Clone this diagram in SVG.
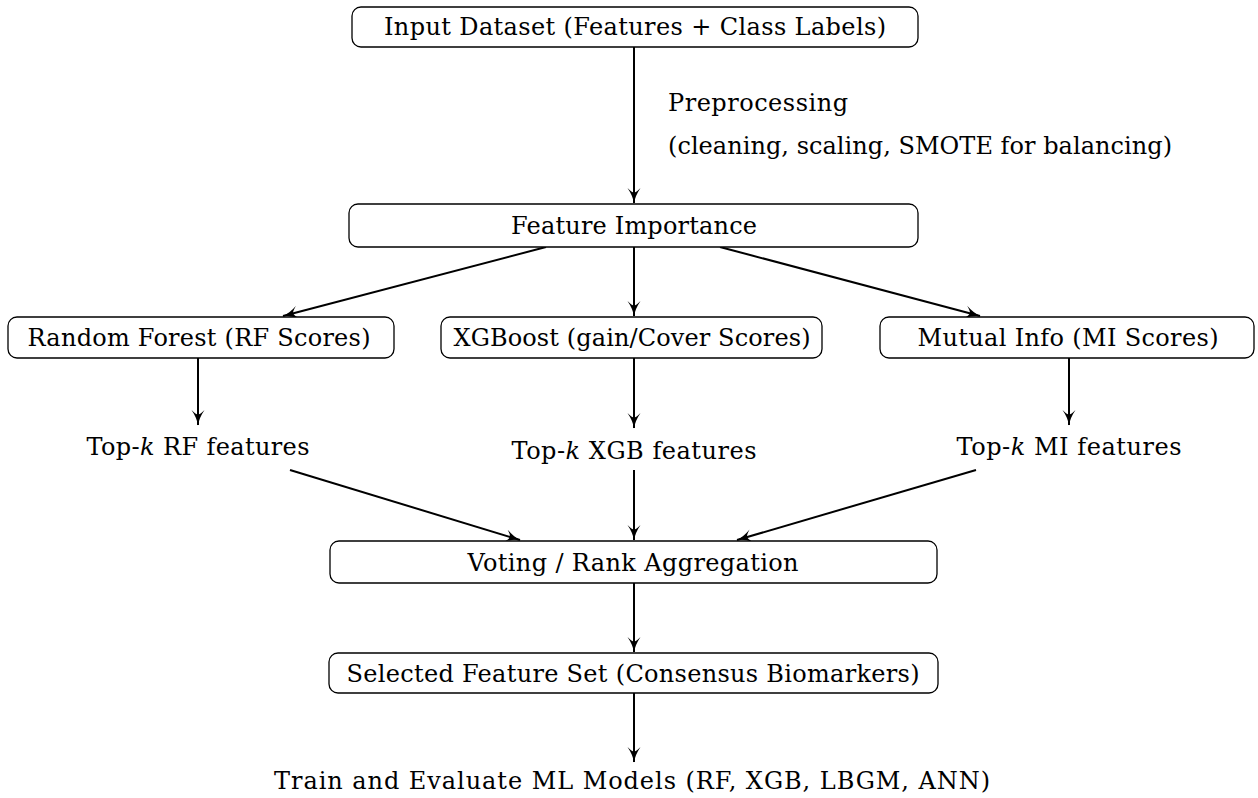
<svg xmlns="http://www.w3.org/2000/svg" width="1258" height="798" viewBox="0 0 1258 798">
<style>
.box{fill:#fff;stroke:#000;stroke-width:1.3}
.t{font-family:"DejaVu Serif","Liberation Serif",serif;font-size:24px;fill:#000;text-anchor:middle}
.tl{font-family:"DejaVu Serif","Liberation Serif",serif;font-size:24px;fill:#000;text-anchor:start}
.c{stroke:#000;stroke-width:2;fill:none;marker-end:url(#ar)}
</style>
<defs>
<marker id="ar" viewBox="0 0 16 14" refX="15" refY="7" markerWidth="16" markerHeight="14" markerUnits="userSpaceOnUse" orient="auto">
<path d="M15.5,7 Q8,6 0,0.5 Q4.5,5 4.5,7 Q4.5,9 0,13.5 Q8,8 15.5,7 Z" fill="#000"/>
</marker>
</defs>
<rect width="1258" height="798" fill="#fff"/>
<g id="connectors">
<line class="c" x1="634" y1="47" x2="634" y2="203"/>
<line class="c" x1="546" y1="247" x2="283" y2="316"/>
<line class="c" x1="634" y1="247" x2="634" y2="316"/>
<line class="c" x1="720" y1="247" x2="980" y2="316"/>
<line class="c" x1="198" y1="358" x2="198" y2="425"/>
<line class="c" x1="634" y1="358" x2="634" y2="428"/>
<line class="c" x1="1069" y1="358" x2="1069" y2="425"/>
<line class="c" x1="290" y1="470" x2="520" y2="540"/>
<line class="c" x1="634" y1="470" x2="634" y2="540"/>
<line class="c" x1="976" y1="470" x2="737" y2="540"/>
<line class="c" x1="634" y1="583" x2="634" y2="652"/>
<line class="c" x1="634" y1="693" x2="634" y2="762"/>
</g>
<g id="preprocessing-label">
<text class="tl" x="668" y="111" textLength="180">Preprocessing</text>
<text class="tl" x="668" y="154" textLength="504">(cleaning, scaling, SMOTE for balancing)</text>
</g>
<g id="input">
<rect class="box" x="352" y="7" width="566" height="40" rx="9"/>
<text class="t" x="635" y="35" textLength="502">Input Dataset (Features + Class Labels)</text>
</g>
<g id="feature-importance">
<rect class="box" x="349" y="204" width="569" height="43" rx="9"/>
<text class="t" x="634" y="234" textLength="246">Feature Importance</text>
</g>
<g id="rf">
<rect class="box" x="8" y="317" width="386" height="41" rx="9"/>
<text class="t" x="199" y="346" textLength="343">Random Forest (RF Scores)</text>
</g>
<g id="xgb">
<rect class="box" x="441" y="317" width="381" height="41" rx="9"/>
<text class="t" x="632" y="346" textLength="357">XGBoost (gain/Cover Scores)</text>
</g>
<g id="mi">
<rect class="box" x="880" y="317" width="374" height="41" rx="9"/>
<text class="t" x="1068" y="346" textLength="301">Mutual Info (MI Scores)</text>
</g>
<g id="top-rf">
<text class="t" x="198" y="455" textLength="223">Top-<tspan font-style="italic">k</tspan> RF features</text>
</g>
<g id="top-xgb">
<text class="t" x="634" y="459" textLength="245">Top-<tspan font-style="italic">k</tspan> XGB features</text>
</g>
<g id="top-mi">
<text class="t" x="1069" y="455" textLength="225">Top-<tspan font-style="italic">k</tspan> MI features</text>
</g>
<g id="voting">
<rect class="box" x="330" y="541" width="607" height="42" rx="9"/>
<text class="t" x="633" y="571" textLength="331">Voting / Rank Aggregation</text>
</g>
<g id="selected">
<rect class="box" x="329" y="653" width="609" height="40" rx="9"/>
<text class="t" x="633" y="682" textLength="573">Selected Feature Set (Consensus Biomarkers)</text>
</g>
<g id="train">
<text class="t" x="632" y="789" textLength="716">Train and Evaluate ML Models (RF, XGB, LBGM, ANN)</text>
</g>
</svg>
